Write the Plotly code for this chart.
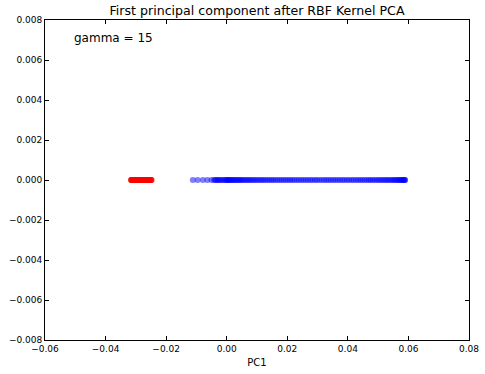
import plotly.graph_objects as go

red_pc1 = [-0.0316, -0.0315, -0.0315, -0.0314, -0.0313, -0.0312, -0.0311, -0.0310, -0.0309, -0.0308,
           -0.0307, -0.0306, -0.0305, -0.0304, -0.0303, -0.0302, -0.0301, -0.0300, -0.0299, -0.0298,
           -0.0297, -0.0296, -0.0295, -0.0294, -0.0293, -0.0292, -0.0291, -0.0290, -0.0289, -0.0288,
           -0.0287, -0.0286, -0.0285, -0.0284, -0.0283, -0.0282, -0.0281, -0.0280, -0.0279, -0.0278,
           -0.0277, -0.0276, -0.0275, -0.0274, -0.0273, -0.0272, -0.0271, -0.0270, -0.0269, -0.0268,
           -0.0267, -0.0266, -0.0265, -0.0264, -0.0263, -0.0262, -0.0261, -0.0260, -0.0259, -0.0258,
           -0.0257, -0.0256, -0.0255, -0.0254, -0.0253, -0.0252, -0.0251, -0.0250, -0.0249, -0.0248]
blue_pc1 = [-0.0112, -0.0096, -0.0079, -0.0064, -0.0050, -0.0042, -0.0038, -0.0034, -0.0030, -0.0026,
            -0.0022, -0.0017, -0.0012, -0.0008, -0.0003, 0.0000, 0.0002, 0.0005, 0.0008, 0.0011,
            0.0015, 0.0018, 0.0022, 0.0026, 0.0030, 0.0034, 0.0038, 0.0042, 0.0046, 0.0050,
            0.0055, 0.0060, 0.0065, 0.0070, 0.0075, 0.0080, 0.0086, 0.0091, 0.0097, 0.0103,
            0.0109, 0.0115, 0.0121, 0.0127, 0.0134, 0.0140, 0.0147, 0.0153, 0.0160, 0.0167,
            0.0174, 0.0181, 0.0188, 0.0195, 0.0202, 0.0209, 0.0216, 0.0223, 0.0231, 0.0238,
            0.0246, 0.0253, 0.0261, 0.0268, 0.0276, 0.0283, 0.0291, 0.0298, 0.0306, 0.0314,
            0.0322, 0.0329, 0.0337, 0.0344, 0.0352, 0.0359, 0.0367, 0.0374, 0.0382, 0.0389,
            0.0397, 0.0404, 0.0412, 0.0419, 0.0427, 0.0434, 0.0441, 0.0448, 0.0455, 0.0462,
            0.0469, 0.0475, 0.0482, 0.0488, 0.0495, 0.0501, 0.0507, 0.0513, 0.0519, 0.0524,
            0.0530, 0.0535, 0.0541, 0.0546, 0.0551, 0.0555, 0.0560, 0.0564, 0.0568, 0.0571,
            0.0575, 0.0578, 0.0581, 0.0584, 0.0586, 0.0588, 0.0589]
red_y = [0.0] * len(red_pc1)
blue_y = [0.0] * len(blue_pc1)

x_ticks = [-0.06, -0.04, -0.02, 0.00, 0.02, 0.04, 0.06, 0.08]
y_ticks = [-0.008, -0.006, -0.004, -0.002, 0.000, 0.002, 0.004, 0.006, 0.008]

font = "DejaVu Sans"

fig = go.Figure()
fig.add_trace(go.Scatter(x=red_pc1, y=red_y, mode="markers",
                         marker=dict(color="red", size=6, opacity=0.5, line=dict(width=0)),
                         showlegend=False))
fig.add_trace(go.Scatter(x=blue_pc1, y=blue_y, mode="markers",
                         marker=dict(color="blue", size=6, opacity=0.5, line=dict(width=0)),
                         showlegend=False))

axis_common = dict(showgrid=False, zeroline=False, showline=True, linecolor="black", linewidth=1,
                   mirror="allticks", ticks="inside", ticklen=4, tickcolor="black",
                   automargin=False,
                   tickfont=dict(family=font, size=9, color="black"))
fig.update_xaxes(range=[-0.06, 0.08], tickvals=x_ticks, tickformat=".2f",
                 title=dict(text="PC1", font=dict(family=font, size=10, color="black"), standoff=6),
                 **axis_common)
fig.update_yaxes(range=[-0.008, 0.008], tickvals=y_ticks, tickformat=".3f", **axis_common)

fig.add_annotation(x=-0.0510, y=0.00712, xref="x", yref="y", text="gamma = 15", showarrow=False,
                   xanchor="left", yanchor="middle", font=dict(family=font, size=12, color="black"))

fig.update_layout(
    width=485, height=374,
    margin=dict(l=45, r=16, t=20, b=34),
    paper_bgcolor="white", plot_bgcolor="white",
    title=dict(text="First principal component after RBF Kernel PCA", x=0.5, xref="paper",
               y=1 - 11 / 374, yref="container", yanchor="middle",
               font=dict(family=font, size=12.6, color="black")),
)

fig.write_html("out.html", config={"displayModeBar": False},
               post_script="document.body.style.margin='0';")
